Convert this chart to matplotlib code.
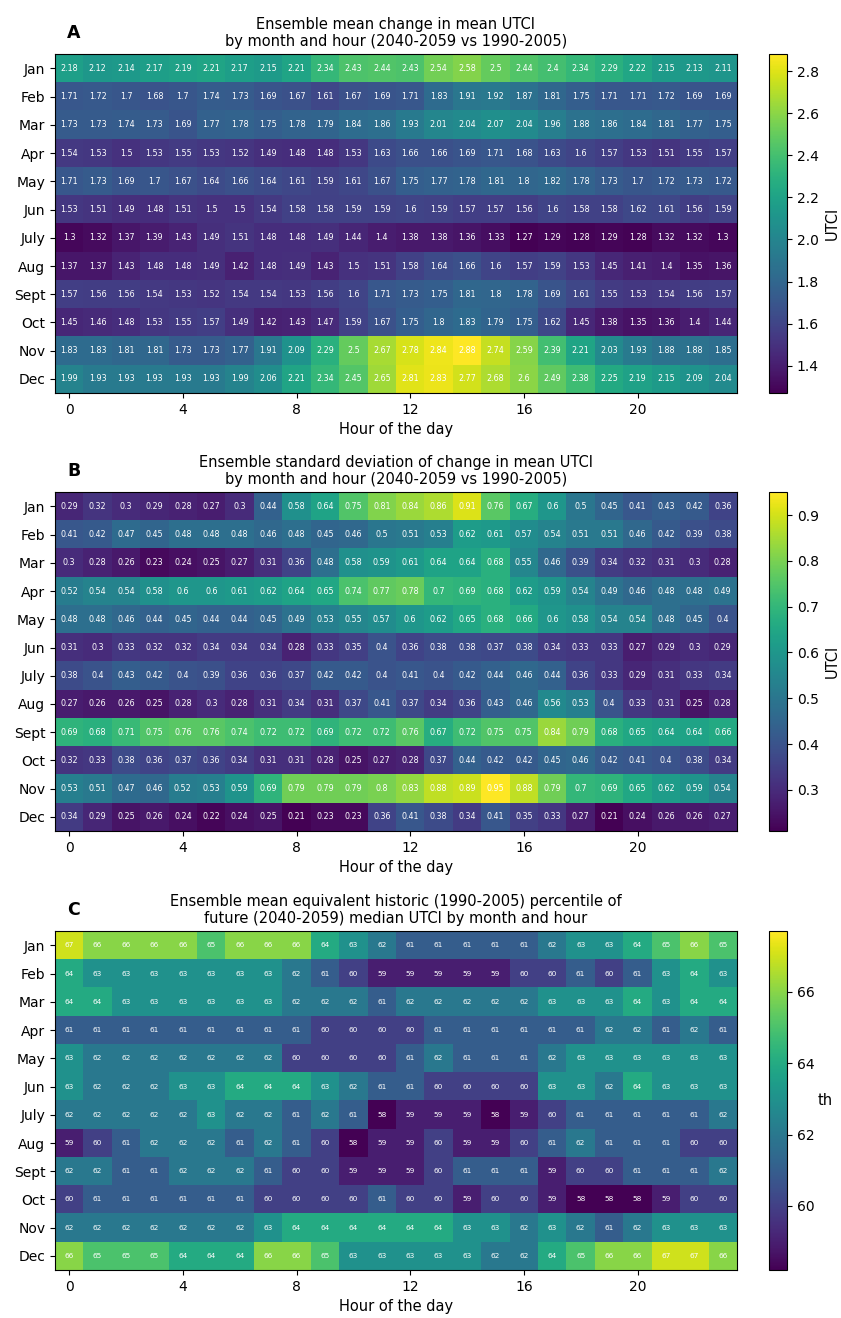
import numpy as np
import matplotlib
matplotlib.use('Agg')
import matplotlib.pyplot as plt

months = ['Jan', 'Feb', 'Mar', 'Apr', 'May', 'Jun', 'July', 'Aug', 'Sept', 'Oct', 'Nov', 'Dec']
hours = list(range(24))

# A: ensemble mean change in mean UTCI
mean_change = [
    [2.18, 2.12, 2.14, 2.17, 2.19, 2.21, 2.17, 2.15, 2.21, 2.34, 2.43, 2.44, 2.43, 2.54, 2.58, 2.5, 2.44, 2.4, 2.34, 2.29, 2.22, 2.15, 2.13, 2.11],
    [1.71, 1.72, 1.7, 1.68, 1.7, 1.74, 1.73, 1.69, 1.67, 1.61, 1.67, 1.69, 1.71, 1.83, 1.91, 1.92, 1.87, 1.81, 1.75, 1.71, 1.71, 1.72, 1.69, 1.69],
    [1.73, 1.73, 1.74, 1.73, 1.69, 1.77, 1.78, 1.75, 1.78, 1.79, 1.84, 1.86, 1.93, 2.01, 2.04, 2.07, 2.04, 1.96, 1.88, 1.86, 1.84, 1.81, 1.77, 1.75],
    [1.54, 1.53, 1.5, 1.53, 1.55, 1.53, 1.52, 1.49, 1.48, 1.48, 1.53, 1.63, 1.66, 1.66, 1.69, 1.71, 1.68, 1.63, 1.6, 1.57, 1.53, 1.51, 1.55, 1.57],
    [1.71, 1.73, 1.69, 1.7, 1.67, 1.64, 1.66, 1.64, 1.61, 1.59, 1.61, 1.67, 1.75, 1.77, 1.78, 1.81, 1.8, 1.82, 1.78, 1.73, 1.7, 1.72, 1.73, 1.72],
    [1.53, 1.51, 1.49, 1.48, 1.51, 1.5, 1.5, 1.54, 1.58, 1.58, 1.59, 1.59, 1.6, 1.59, 1.57, 1.57, 1.56, 1.6, 1.58, 1.58, 1.62, 1.61, 1.56, 1.59],
    [1.3, 1.32, 1.37, 1.39, 1.43, 1.49, 1.51, 1.48, 1.48, 1.49, 1.44, 1.4, 1.38, 1.38, 1.36, 1.33, 1.27, 1.29, 1.28, 1.29, 1.28, 1.32, 1.32, 1.3],
    [1.37, 1.37, 1.43, 1.48, 1.48, 1.49, 1.42, 1.48, 1.49, 1.43, 1.5, 1.51, 1.58, 1.64, 1.66, 1.6, 1.57, 1.59, 1.53, 1.45, 1.41, 1.4, 1.35, 1.36],
    [1.57, 1.56, 1.56, 1.54, 1.53, 1.52, 1.54, 1.54, 1.53, 1.56, 1.6, 1.71, 1.73, 1.75, 1.81, 1.8, 1.78, 1.69, 1.61, 1.55, 1.53, 1.54, 1.56, 1.57],
    [1.45, 1.46, 1.48, 1.53, 1.55, 1.57, 1.49, 1.42, 1.43, 1.47, 1.59, 1.67, 1.75, 1.8, 1.83, 1.79, 1.75, 1.62, 1.45, 1.38, 1.35, 1.36, 1.4, 1.44],
    [1.83, 1.83, 1.81, 1.81, 1.73, 1.73, 1.77, 1.91, 2.09, 2.29, 2.5, 2.67, 2.78, 2.84, 2.88, 2.74, 2.59, 2.39, 2.21, 2.03, 1.93, 1.88, 1.88, 1.85],
    [1.99, 1.93, 1.93, 1.93, 1.93, 1.93, 1.99, 2.06, 2.21, 2.34, 2.45, 2.65, 2.81, 2.83, 2.77, 2.68, 2.6, 2.49, 2.38, 2.25, 2.19, 2.15, 2.09, 2.04],
]

# B: ensemble standard deviation of change
std_change = [
    [0.29, 0.32, 0.3, 0.29, 0.28, 0.27, 0.3, 0.44, 0.58, 0.64, 0.75, 0.81, 0.84, 0.86, 0.91, 0.76, 0.67, 0.6, 0.5, 0.45, 0.41, 0.43, 0.42, 0.36],
    [0.41, 0.42, 0.47, 0.45, 0.48, 0.48, 0.48, 0.46, 0.48, 0.45, 0.46, 0.5, 0.51, 0.53, 0.62, 0.61, 0.57, 0.54, 0.51, 0.51, 0.46, 0.42, 0.39, 0.38],
    [0.3, 0.28, 0.26, 0.23, 0.24, 0.25, 0.27, 0.31, 0.36, 0.48, 0.58, 0.59, 0.61, 0.64, 0.64, 0.68, 0.55, 0.46, 0.39, 0.34, 0.32, 0.31, 0.3, 0.28],
    [0.52, 0.54, 0.54, 0.58, 0.6, 0.6, 0.61, 0.62, 0.64, 0.65, 0.74, 0.77, 0.78, 0.7, 0.69, 0.68, 0.62, 0.59, 0.54, 0.49, 0.46, 0.48, 0.48, 0.49],
    [0.48, 0.48, 0.46, 0.44, 0.45, 0.44, 0.44, 0.45, 0.49, 0.53, 0.55, 0.57, 0.6, 0.62, 0.65, 0.68, 0.66, 0.6, 0.58, 0.54, 0.54, 0.48, 0.45, 0.4],
    [0.31, 0.3, 0.33, 0.32, 0.32, 0.34, 0.34, 0.34, 0.28, 0.33, 0.35, 0.4, 0.36, 0.38, 0.38, 0.37, 0.38, 0.34, 0.33, 0.33, 0.27, 0.29, 0.3, 0.29],
    [0.38, 0.4, 0.43, 0.42, 0.4, 0.39, 0.36, 0.36, 0.37, 0.42, 0.42, 0.4, 0.41, 0.4, 0.42, 0.44, 0.46, 0.44, 0.36, 0.33, 0.29, 0.31, 0.33, 0.34],
    [0.27, 0.26, 0.26, 0.25, 0.28, 0.3, 0.28, 0.31, 0.34, 0.31, 0.37, 0.41, 0.37, 0.34, 0.36, 0.43, 0.46, 0.56, 0.53, 0.4, 0.33, 0.31, 0.25, 0.28],
    [0.69, 0.68, 0.71, 0.75, 0.76, 0.76, 0.74, 0.72, 0.72, 0.69, 0.72, 0.72, 0.76, 0.67, 0.72, 0.75, 0.75, 0.84, 0.79, 0.68, 0.65, 0.64, 0.64, 0.66],
    [0.32, 0.33, 0.38, 0.36, 0.37, 0.36, 0.34, 0.31, 0.31, 0.28, 0.25, 0.27, 0.28, 0.37, 0.44, 0.42, 0.42, 0.45, 0.46, 0.42, 0.41, 0.4, 0.38, 0.34],
    [0.53, 0.51, 0.47, 0.46, 0.52, 0.53, 0.59, 0.69, 0.79, 0.79, 0.79, 0.8, 0.83, 0.88, 0.89, 0.95, 0.88, 0.79, 0.7, 0.69, 0.65, 0.62, 0.59, 0.54],
    [0.34, 0.29, 0.25, 0.26, 0.24, 0.22, 0.24, 0.25, 0.21, 0.23, 0.23, 0.36, 0.41, 0.38, 0.34, 0.41, 0.35, 0.33, 0.27, 0.21, 0.24, 0.26, 0.26, 0.27],
]

# C: equivalent historic percentile of future median
percentile = [
    [67, 66, 66, 66, 66, 65, 66, 66, 66, 64, 63, 62, 61, 61, 61, 61, 61, 62, 63, 63, 64, 65, 66, 65],
    [64, 63, 63, 63, 63, 63, 63, 63, 62, 61, 60, 59, 59, 59, 59, 59, 60, 60, 61, 60, 61, 63, 64, 63],
    [64, 64, 63, 63, 63, 63, 63, 63, 62, 62, 62, 61, 62, 62, 62, 62, 62, 63, 63, 63, 64, 63, 64, 64],
    [61, 61, 61, 61, 61, 61, 61, 61, 61, 60, 60, 60, 60, 61, 61, 61, 61, 61, 61, 62, 62, 61, 62, 61],
    [63, 62, 62, 62, 62, 62, 62, 62, 60, 60, 60, 60, 61, 62, 61, 61, 61, 62, 63, 63, 63, 63, 63, 63],
    [63, 62, 62, 62, 63, 63, 64, 64, 64, 63, 62, 61, 61, 60, 60, 60, 60, 63, 63, 62, 64, 63, 63, 63],
    [62, 62, 62, 62, 62, 63, 62, 62, 61, 62, 61, 58, 59, 59, 59, 58, 59, 60, 61, 61, 61, 61, 61, 62],
    [59, 60, 61, 62, 62, 62, 61, 62, 61, 60, 58, 59, 59, 60, 59, 59, 60, 61, 62, 61, 61, 61, 60, 60],
    [62, 62, 61, 61, 62, 62, 62, 61, 60, 60, 59, 59, 59, 60, 61, 61, 61, 59, 60, 60, 61, 61, 61, 62],
    [60, 61, 61, 61, 61, 61, 61, 60, 60, 60, 60, 61, 60, 60, 59, 60, 60, 59, 58, 58, 58, 59, 60, 60],
    [62, 62, 62, 62, 62, 62, 62, 63, 64, 64, 64, 64, 64, 64, 63, 63, 62, 63, 62, 61, 62, 63, 63, 63],
    [66, 65, 65, 65, 64, 64, 64, 66, 66, 65, 63, 63, 63, 63, 63, 62, 62, 64, 65, 66, 66, 67, 67, 66],
]

titles = [
    'Ensemble mean change in mean UTCI\nby month and hour (2040-2059 vs 1990-2005)',
    'Ensemble standard deviation of change in mean UTCI\nby month and hour (2040-2059 vs 1990-2005)',
    'Ensemble mean equivalent historic (1990-2005) percentile of\nfuture (2040-2059) median UTCI by month and hour',
]
letters = ['A', 'B', 'C']
cbar_labels = ['UTCI', 'UTCI', 'th']
panels = [mean_change, std_change, percentile]

fig = plt.figure(figsize=(8.41, 13.18), dpi=100)
bottoms = [0.7018, 0.3695, 0.0364]
height = 0.257

for k in range(3):
    data = np.array(panels[k])
    ax = fig.add_axes([0.0654, bottoms[k], 0.8109, height])
    cax = fig.add_axes([0.9144, bottoms[k], 0.0214, height])
    if k == 2:
        # colour range of the percentile panel runs a bit past the rounded labels
        im = ax.imshow(data, cmap='viridis', aspect='auto', vmin=58.2, vmax=67.7)
        fs = 5.3
    else:
        im = ax.imshow(data, cmap='viridis', aspect='auto')
        fs = 5.8
    for i in range(data.shape[0]):
        for j in range(data.shape[1]):
            ax.text(j, i, '{:g}'.format(data[i, j]), ha='center', va='center',
                    color='white', fontsize=fs)
    ax.set_xticks([0, 4, 8, 12, 16, 20])
    ax.set_yticks(range(len(months)))
    ax.set_yticklabels(months)
    ax.tick_params(labelsize=10)
    ax.set_xlabel('Hour of the day', fontsize=10.5, labelpad=4)
    ax.set_title(titles[k], fontsize=10.5, pad=6)
    ax.text(0.018, 1.035, letters[k], transform=ax.transAxes, fontsize=12.5,
            fontweight='bold', va='bottom', ha='left')
    cb = fig.colorbar(im, cax=cax)
    cb.ax.tick_params(labelsize=10)
    if k == 2:
        cb.set_label(cbar_labels[k], fontsize=10.5, rotation=0, labelpad=8, va='center')
    else:
        cb.set_label(cbar_labels[k], fontsize=10.5)

plt.savefig('out.png', dpi=100)
